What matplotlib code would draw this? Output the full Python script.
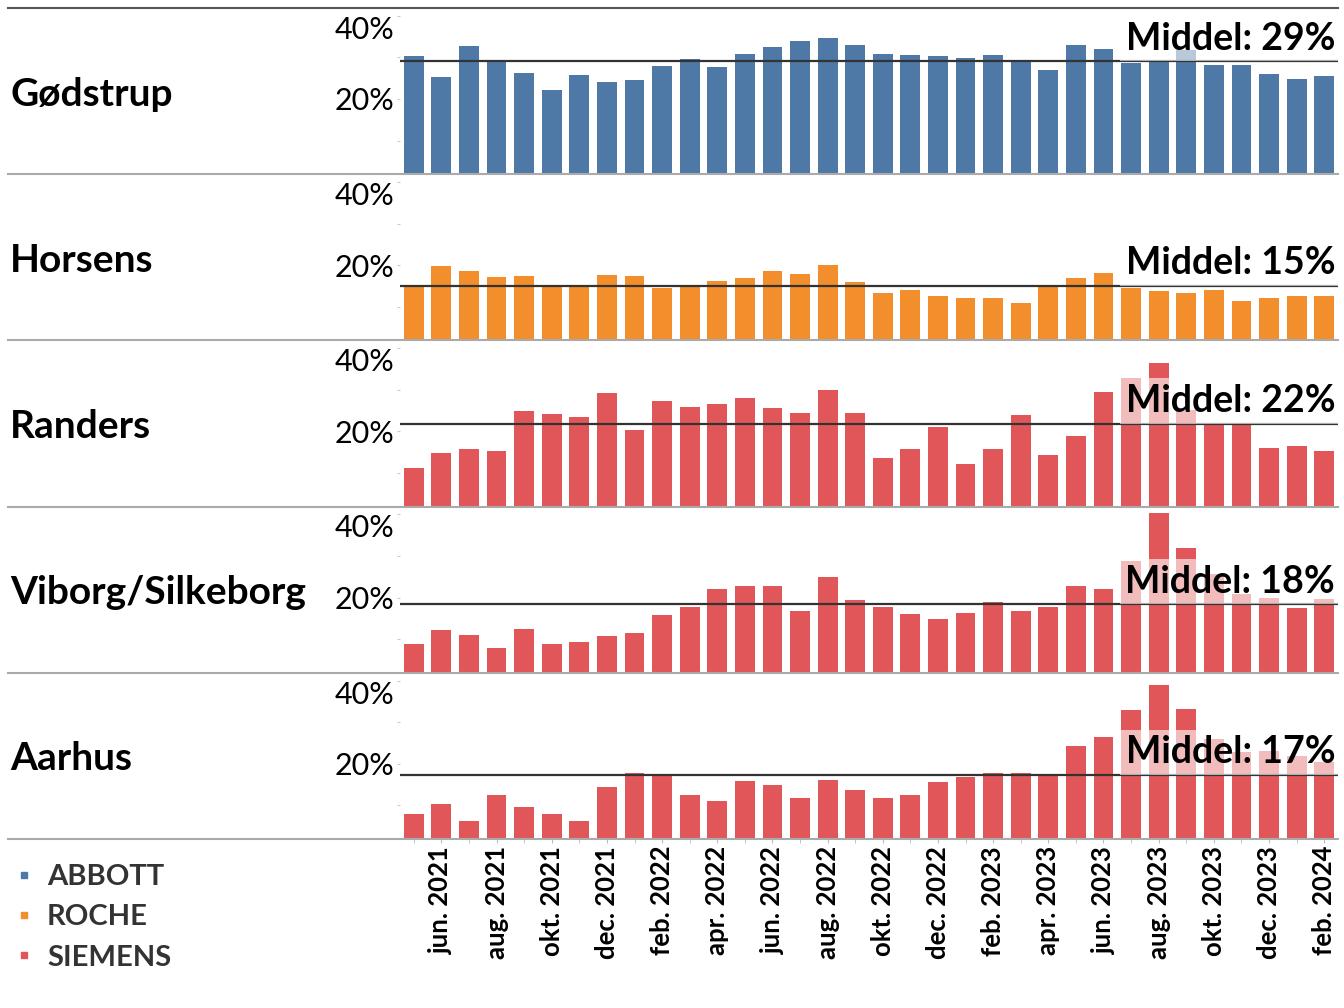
import matplotlib
matplotlib.use('Agg')
import matplotlib.pyplot as plt
from matplotlib.lines import Line2D

plt.rcParams['font.family'] = ['Lato', 'DejaVu Sans']

hospitals = ['Gødstrup', 'Horsens', 'Randers', 'Viborg/Silkeborg', 'Aarhus']
suppliers = ['ABBOTT', 'ROCHE', 'SIEMENS', 'SIEMENS', 'SIEMENS']
supplier_colors = {'ABBOTT': '#4e79a7', 'ROCHE': '#f28e2b', 'SIEMENS': '#e15759'}

month_names = ['jan.', 'feb.', 'mar.', 'apr.', 'maj', 'jun.', 'jul.',
               'aug.', 'sep.', 'okt.', 'nov.', 'dec.']
months = [f'{m} {y}' for y in (2021, 2022, 2023, 2024) for m in month_names][4:38]

# share in percent, maj 2021 .. feb 2024
goedstrup = [30.4, 25.4, 32.8, 29.2, 26.2, 22.2, 25.8, 24.2, 24.6, 28.0, 29.6, 27.8,
             30.8, 32.6, 34.0, 34.6, 33.0, 30.8, 30.6, 30.4, 29.9, 30.7, 29.2, 27.0,
             33.1, 32.0, 28.7, 29.2, 31.8, 28.3, 28.1, 26.0, 24.8, 25.6]
horsens = [15.3, 19.7, 18.7, 17.1, 17.5, 15.1, 14.7, 17.6, 17.3, 14.4, 14.7, 16.3,
           16.8, 18.5, 17.9, 20.1, 16.0, 13.4, 14.1, 12.7, 12.2, 12.2, 11.0, 14.7,
           16.8, 18.2, 14.6, 13.9, 13.4, 14.1, 11.3, 12.2, 12.5, 12.7]
randers = [11.3, 14.9, 15.7, 15.4, 24.9, 24.1, 23.4, 29.2, 20.4, 27.3, 25.8, 26.6,
           28.0, 25.6, 24.4, 29.9, 24.4, 13.6, 15.7, 21.0, 12.1, 15.7, 23.9, 14.3,
           18.9, 29.4, 32.8, 36.4, 25.1, 22.1, 21.6, 16.1, 16.5, 15.2]
viborg = [8.8, 12.1, 11.0, 7.8, 12.5, 8.9, 9.2, 10.7, 11.4, 15.7, 17.7, 22.0,
          22.7, 22.9, 16.8, 24.9, 19.5, 17.7, 16.0, 14.8, 16.3, 18.9, 16.8, 17.8,
          22.8, 22.0, 28.9, 40.4, 31.9, 25.7, 20.8, 20.0, 17.5, 19.6]
aarhus = [7.9, 10.3, 6.3, 12.6, 9.5, 7.9, 6.3, 14.4, 17.8, 17.3, 12.5, 11.0,
          15.9, 15.0, 11.8, 16.1, 13.8, 11.8, 12.6, 15.5, 16.9, 17.8, 17.8, 17.2,
          24.4, 26.5, 33.0, 38.9, 33.3, 26.0, 22.9, 23.0, 21.9, 20.5]
series = [goedstrup, horsens, randers, viborg, aarhus]
means = [29.1, 15.0, 21.9, 18.4, 17.3]

W, H = 1344, 1008
fig = plt.figure(figsize=(W / 100, H / 100), dpi=100)

left, right = 400, 1338
top0, row_h = 8, 166.2
x = list(range(len(months)))

for i, (name, vals) in enumerate(zip(hospitals, series)):
    top = top0 + i * row_h
    ax = fig.add_axes([left / W, 1 - (top + row_h) / H, (right - left) / W, row_h / H])
    ax.bar(x, vals, width=0.72, color=supplier_colors[suppliers[i]])
    ax.set_xlim(-0.5, len(x) - 0.5)
    ax.set_ylim(1.9, 41.9)
    for s in ax.spines.values():
        s.set_visible(False)

    ax.axhline(means[i], color='#333333', lw=1.6, zorder=3)
    ax.annotate(f'Middel: {means[i]:.0f}%', xy=(len(x) - 0.6, means[i]),
                xytext=(0, 4), textcoords='offset points',
                ha='right', va='bottom', fontsize=27, fontweight='bold',
                color='black', zorder=4,
                bbox=dict(facecolor='white', alpha=0.6, edgecolor='none', pad=4))

    ax.set_yticks([10, 20, 30, 40])
    labels = ax.set_yticklabels(['', '20%', '', '40%'])
    labels[3].set_va('top')
    ax.tick_params(axis='y', length=2, color='#cccccc', labelsize=22, pad=2)

    if i < len(hospitals) - 1:
        ax.set_xticks([])
    else:
        ax.set_xticks(x[1::2])
        ax.set_xticklabels(months[1::2], rotation=90, fontsize=18.5,
                           fontweight='bold', va='top', ha='center')
        ax.set_xticks(x, minor=True)
        ax.tick_params(axis='x', which='both', length=3, color='#bbbbbb', pad=2)

    fig.text(10 / W, 1 - (top + row_h / 2 + 3) / H, name, fontsize=28,
             fontweight='bold', va='center', ha='left', color='black')

# row separators
for i in range(len(hospitals) + 1):
    y = 1 - (top0 + i * row_h) / H
    fig.add_artist(Line2D([8 / W, right / W], [y, y],
                          color='#555555' if i == 0 else '#aaaaaa', lw=1.5))

handles = [Line2D([], [], marker='s', ls='none', markersize=5,
                  color=supplier_colors[s]) for s in supplier_colors]
fig.legend(handles, list(supplier_colors), loc='upper left',
           bbox_to_anchor=(15 / W, 1 - 864 / H), frameon=False,
           prop={'size': 21, 'weight': 'bold'}, labelcolor='#333333',
           borderaxespad=0, borderpad=0,
           handlelength=0.6, handletextpad=0.5, labelspacing=0.49)

fig.savefig('out.png', dpi=100)
